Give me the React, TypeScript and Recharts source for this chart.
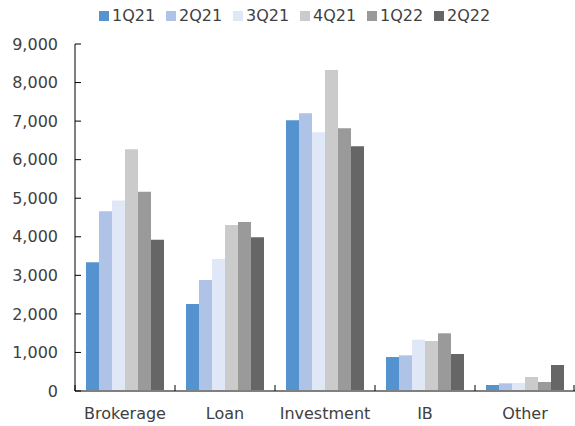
import { BarChart, Bar, XAxis, YAxis } from 'recharts'

const categories = ['Brokerage', 'Loan', 'Investment', 'IB', 'Other']
const q1_21 = [3340, 2256, 7020, 882, 156]
const q2_21 = [4660, 2879, 7202, 925, 199]
const q3_21 = [4940, 3424, 6709, 1331, 207]
const q4_21 = [6270, 4305, 8326, 1297, 363]
const q1_22 = [5170, 4383, 6813, 1496, 233]
const q2_22 = [3920, 3986, 6346, 960, 674]
const yTicks = [0, 1000, 2000, 3000, 4000, 5000, 6000, 7000, 8000, 9000]

const series = [
  { key: '1Q21', values: q1_21, color: '#5592d0' },
  { key: '2Q21', values: q2_21, color: '#aec3e6' },
  { key: '3Q21', values: q3_21, color: '#e0e8f7' },
  { key: '4Q21', values: q4_21, color: '#cbcbcb' },
  { key: '1Q22', values: q1_22, color: '#9a9a9a' },
  { key: '2Q22', values: q2_22, color: '#666666' },
]

const data = categories.map((name, i) => {
  const row: Record<string, string | number> = { name }
  series.forEach((s) => {
    row[s.key] = s.values[i]
  })
  return row
})

const FONT = "'DejaVu Sans', Verdana, sans-serif"
const TEXT = '#404040'
const PLOT_W = 500

// category label centred, with a short tick mark at the band's left edge
const CategoryTick = (props: any) => {
  const { x, y, payload, index } = props
  const half = PLOT_W / categories.length / 2
  const base = y - 8
  return (
    <g>
      <line x1={x - half} x2={x - half} y1={base - 6} y2={base} stroke="#000" strokeWidth={1} />
      {index === categories.length - 1 && (
        <line x1={x + half - 1} x2={x + half - 1} y1={base - 6} y2={base} stroke="#000" strokeWidth={1} />
      )}
      <text x={x} y={base + 28} textAnchor="middle" fill={TEXT} fontSize={16} fontFamily={FONT}>
        {payload.value}
      </text>
    </g>
  )
}

// legend row across the top, in series order
const TopLegend = () => (
  <div
    style={{
      position: 'absolute',
      top: 6,
      left: 99,
      display: 'flex',
      fontFamily: FONT,
      fontSize: 16,
      color: TEXT,
      lineHeight: '20px',
    }}
  >
    {series.map((s) => (
      <div key={s.key} style={{ display: 'flex', alignItems: 'center', width: 67 }}>
        <span style={{ width: 10, height: 10, background: s.color, marginRight: 3, display: 'inline-block' }} />
        <span>{s.key}</span>
      </div>
    ))}
  </div>
)

export default function App() {
  return (
    <div style={{ position: 'fixed', left: 0, top: 0, width: 575, height: 426, background: '#fff' }}>
      <BarChart
        width={575}
        height={426}
        data={data}
        margin={{ top: 44, right: 0, bottom: 0, left: 0 }}
        barCategoryGap="11%"
        barGap={0}
      >
        <XAxis
          dataKey="name"
          axisLine={{ stroke: '#808080', strokeWidth: 2 }}
          tickLine={false}
          tick={<CategoryTick />}
          interval={0}
          height={35}
        />
        <YAxis
          width={75}
          domain={[0, 9000]}
          ticks={yTicks}
          interval={0}
          axisLine={{ stroke: '#000', strokeWidth: 1 }}
          tickLine={{ stroke: '#000' }}
          tickSize={-6}
          tickMargin={23}
          tickFormatter={(v: number) => v.toLocaleString('en-US')}
          tick={{ fill: TEXT, fontSize: 16, fontFamily: FONT }}
        />
        {series.map((s) => (
          <Bar key={s.key} dataKey={s.key} fill={s.color} isAnimationActive={false} />
        ))}
      </BarChart>
      <TopLegend />
    </div>
  )
}
